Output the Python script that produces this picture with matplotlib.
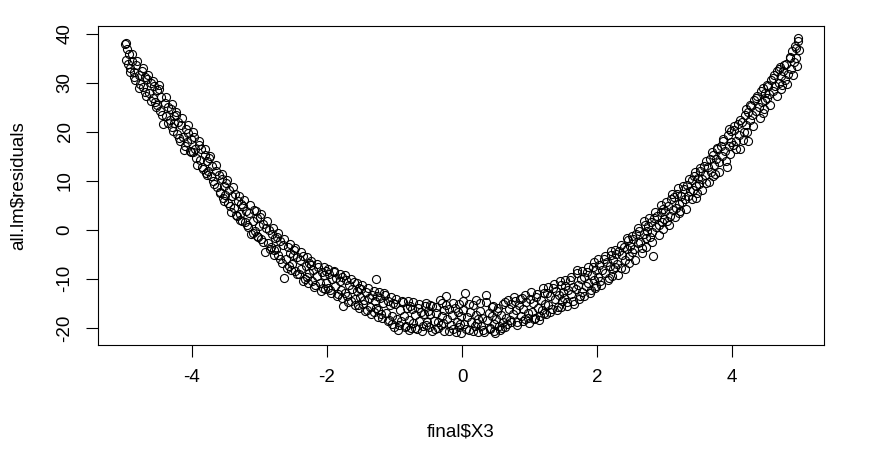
import matplotlib
matplotlib.use("Agg")
import matplotlib.pyplot as plt

# residuals, left arm / trough / right arm
x_left = [
    -4.99, -4.98, -4.97, -4.95, -4.93, -4.91, -4.89, -4.86, -4.84, -4.82, -4.79, -4.77,
    -4.74, -4.72, -4.70, -4.68, -4.66, -4.63, -4.61, -4.58, -4.56, -4.54, -4.52, -4.51,
    -4.49, -4.47, -4.45, -4.43, -4.40, -4.38, -4.36, -4.33, -4.31, -4.29, -4.27, -4.26,
    -4.24, -4.22, -4.20, -4.18, -4.16, -4.13, -4.11, -4.09, -4.07, -4.05, -4.03, -4.01,
    -3.99, -3.97, -3.95, -3.92, -3.90, -3.88, -3.86, -3.83, -3.81, -3.79, -3.77, -3.76,
    -3.74, -3.72, -3.70, -3.67, -3.65, -3.63, -3.60, -3.58, -3.56, -3.54, -3.52, -3.51,
    -3.49, -3.47, -3.45, -3.42, -3.40, -3.38, -3.36, -3.33, -3.31, -3.29, -3.27, -3.26,
    -3.24, -3.22, -3.20, -3.17, -3.15, -3.13, -3.10, -3.08, -3.06, -3.04, -3.02, -3.01,
    -2.99, -2.97, -2.95, -2.92, -2.90, -2.88, -2.86, -2.83, -2.81, -2.79, -2.77, -2.76,
    -2.74, -2.72, -2.70, -2.67, -2.65, -2.63, -2.60, -2.58, -2.56, -2.54, -2.52, -2.51,
    -2.49, -2.47, -2.45, -2.42, -2.40, -2.38, -2.36, -2.33, -2.31, -2.29, -2.27, -2.26,
    -2.24, -2.22, -2.20, -2.17, -2.15, -2.13, -2.10, -2.08, -2.06, -2.04, -2.02, -2.01,
]
r_left = [
    37.9, 38.2, 34.6, 33.8, 35.9, 33.1, 34.4, 32.3, 30.6, 33.7, 31.5, 29.8,
    32.4, 29.2, 31.1, 27.3, 30.8, 28.0, 29.9, 26.9, 29.4, 26.1, 28.5, 25.4,
    29.6, 24.3, 27.1, 21.5, 25.8, 23.2, 25.1, 22.4, 24.6, 20.9, 23.3, 21.8,
    23.4, 19.6, 22.1, 18.2, 21.4, 19.0, 16.3, 20.6, 17.9, 19.8, 16.1, 18.6,
    15.9, 18.9, 16.4, 13.2, 17.3, 14.2, 16.6, 12.4, 15.3, 11.6, 14.1, 12.0,
    14.6, 10.9, 13.0, 9.3, 12.1, 8.8, 11.2, 7.7, 10.3, 6.4, 9.0, 7.1,
    9.6, 5.4, 8.1, 3.6, 6.9, 4.5, 7.4, 2.9, 5.9, 3.3, 5.2, 1.8,
    4.8, 1.5, 3.9, 0.6, 3.5, -0.9, 1.9, 4.1, -0.2, 2.4, -1.5, 0.8,
    2.6, -1.8, 1.1, -4.6, 0.4, -2.7, -0.1, -3.4, -0.8, -4.1, -1.6, -3.9,
    -1.4, -5.2, -2.3, -6.8, -3.1, -9.9, -5.9, -3.6, -7.4, -4.7, -6.9, -5.1,
    -4.2, -8.4, -5.6, -9.1, -6.2, -8.0, -5.3, -10.1, -7.4, -9.6, -6.8, -8.9,
    -7.1, -10.4, -8.2, -11.3, -9.5, -7.6, -10.8, -8.7, -11.9, -9.2, -10.9, -8.4,
]

x_mid = [
    -1.99, -1.97, -1.95, -1.92, -1.90, -1.88, -1.86, -1.83, -1.81, -1.79, -1.77, -1.76,
    -1.74, -1.72, -1.70, -1.67, -1.65, -1.63, -1.60, -1.58, -1.56, -1.54, -1.52, -1.51,
    -1.49, -1.47, -1.45, -1.42, -1.40, -1.38, -1.36, -1.33, -1.31, -1.29, -1.28, -1.27, -1.26,
    -1.24, -1.22, -1.20, -1.17, -1.15, -1.13, -1.10, -1.08, -1.06, -1.04, -1.02, -1.01,
    -0.99, -0.97, -0.95, -0.92, -0.90, -0.88, -0.86, -0.83, -0.81, -0.79, -0.77, -0.76,
    -0.74, -0.72, -0.70, -0.67, -0.65, -0.63, -0.60, -0.58, -0.56, -0.54, -0.52, -0.51,
    -0.49, -0.47, -0.45, -0.42, -0.40, -0.38, -0.36, -0.33, -0.31, -0.29, -0.27, -0.26,
    -0.24, -0.22, -0.20, -0.17, -0.15, -0.13, -0.10, -0.08, -0.06, -0.04, -0.02, -0.01,
    0.01, 0.03, 0.05, 0.07, 0.10, 0.12, 0.14, 0.17, 0.19, 0.21, 0.23, 0.24,
    0.26, 0.28, 0.30, 0.33, 0.35, 0.37, 0.40, 0.42, 0.44, 0.46, 0.48, 0.49,
    0.51, 0.53, 0.55, 0.57, 0.59, 0.61, 0.63, 0.65, 0.67, 0.69, 0.71, 0.73,
    0.76, 0.78, 0.80, 0.82, 0.85, 0.87, 0.89, 0.91, 0.93, 0.95, 0.97, 0.99,
    1.01, 1.03, 1.05, 1.08, 1.10, 1.12, 1.14, 1.17, 1.19, 1.21, 1.23, 1.24,
    1.26, 1.28, 1.30, 1.33, 1.35, 1.37, 1.39, 1.42, 1.44, 1.46, 1.48, 1.49,
    1.51, 1.53, 1.55, 1.57, 1.60, 1.62, 1.64, 1.66, 1.69, 1.71, 1.72, 1.74,
    1.76, 1.78, 1.80, 1.83, 1.85, 1.87, 1.89, 1.92, 1.94, 1.96, 1.98, 1.99,
]
r_mid = [
    -11.8, -9.1, -12.2, -10.0, -8.6, -11.5, -9.8, -13.1, -10.4, -12.3, -9.7, -15.6,
    -12.9, -10.2, -13.4, -11.3, -14.6, -12.0, -10.7, -14.1, -12.4, -15.3, -11.9, -13.8,
    -12.1, -15.2, -14.4, -12.6, -16.3, -13.9, -15.7, -13.2, -16.8, -14.5, -10.1, -15.9, -13.6,
    -16.4, -13.9, -17.2, -15.0, -12.8, -16.9, -14.6, -18.3, -15.4, -17.6, -14.9, -19.8,
    -15.1, -18.2, -20.4, -16.3, -18.7, -14.8, -17.5, -19.6, -16.0, -18.4, -15.6, -20.1,
    -16.2, -19.0, -17.3, -20.3, -15.9, -18.6, -16.8, -19.7, -17.1, -14.9, -18.9, -16.6,
    -19.8, -17.2, -15.5, -18.6, -20.2, -16.9, -18.9, -14.3, -19.4, -17.6, -20.6, -16.4,
    -13.6, -18.2, -16.1, -19.5, -17.4, -20.3, -15.9, -18.8, -16.7, -19.9, -17.6, -21.0,
    -16.3, -19.2, -12.9, -17.8, -20.4, -16.8, -18.9, -15.4, -19.7, -17.3, -20.8, -18.1,
    -16.6, -19.6, -17.9, -20.9, -13.2, -18.4, -16.9, -20.1, -17.6, -15.5, -19.3, -21.0,
    -18.2, -15.9, -19.6, -17.4, -20.0, -18.8, -14.8, -17.9, -19.3, -16.2, -18.4, -15.1,
    -17.2, -14.6, -16.4, -18.9, -15.3, -17.6, -13.9, -16.1, -18.2, -14.8, -16.9, -19.1,
    -14.2, -16.8, -15.0, -17.9, -13.8, -15.9, -18.4, -14.4, -16.3, -12.9, -15.2, -17.1,
    -12.8, -15.4, -13.6, -16.2, -11.9, -14.1, -12.4, -15.7, -13.3, -11.2, -14.5, -12.7,
    -13.9, -11.4, -14.8, -12.2, -10.3, -13.1, -11.7, -15.2, -12.0, -8.2, -11.3, -13.4,
    -10.1, -12.6, -9.6, -11.4, -8.7, -10.8, -12.9, -9.3, -7.6, -10.2, -8.1, -11.5,
]

x_right = [
    2.01, 2.03, 2.05, 2.08, 2.10, 2.12, 2.14, 2.17, 2.19, 2.21, 2.23, 2.24,
    2.26, 2.28, 2.30, 2.33, 2.35, 2.37, 2.40, 2.42, 2.44, 2.46, 2.48, 2.49,
    2.51, 2.53, 2.55, 2.58, 2.60, 2.62, 2.64, 2.67, 2.69, 2.71, 2.73, 2.74,
    2.76, 2.78, 2.80, 2.82, 2.83, 2.85, 2.87, 2.89, 2.92, 2.94, 2.96, 2.98, 2.99,
    3.01, 3.03, 3.05, 3.08, 3.10, 3.12, 3.14, 3.17, 3.19, 3.21, 3.23, 3.24,
    3.26, 3.28, 3.30, 3.33, 3.35, 3.37, 3.40, 3.42, 3.44, 3.46, 3.47, 3.49,
    3.51, 3.53, 3.55, 3.58, 3.60, 3.62, 3.64, 3.67, 3.69, 3.71, 3.73, 3.74,
    3.76, 3.78, 3.80, 3.83, 3.85, 3.87, 3.89, 3.92, 3.94, 3.96, 3.98, 3.99,
    4.01, 4.03, 4.05, 4.08, 4.10, 4.12, 4.14, 4.17, 4.19, 4.21, 4.23, 4.24,
    4.26, 4.28, 4.30, 4.33, 4.35, 4.37, 4.40, 4.42, 4.44, 4.46, 4.48, 4.49,
    4.51, 4.53, 4.55, 4.58, 4.60, 4.62, 4.64, 4.67, 4.69, 4.71, 4.73, 4.74,
    4.76, 4.78, 4.80, 4.83, 4.85, 4.87, 4.89, 4.91, 4.93, 4.95, 4.97, 4.98, 4.99,
]
r_right = [
    -9.6, -7.2, -10.4, -8.1, -5.9, -8.8, -6.6, -9.9, -7.3, -5.1, -8.0, -6.1,
    -7.6, -5.0, -6.9, -4.4, -7.8, -5.2, -3.6, -6.1, -4.0, -2.1, -5.3, -3.2,
    -4.6, -1.9, -3.9, -0.8, -2.7, -0.3, -2.4, -3.8, -0.9, 1.0, -1.6, -0.2,
    0.8, -1.5, 1.6, -0.4, -5.3, 2.4, 0.5, 2.8, 0.9, 3.7, 1.7, 4.2, 2.3,
    3.8, 1.9, 4.9, 2.8, 6.3, 4.0, 6.8, 4.5, 7.4, 5.3, 3.9, 6.9,
    5.6, 8.3, 6.2, 9.1, 7.0, 7.9, 10.2, 8.1, 11.0, 9.0, 6.6, 10.6,
    9.4, 12.1, 10.3, 13.1, 11.2, 9.6, 12.8, 14.4, 11.9, 15.3, 13.2, 11.4,
    14.5, 16.8, 13.9, 17.2, 15.1, 18.6, 16.0, 12.8, 19.3, 17.1, 20.2, 18.0,
    17.4, 20.3, 18.1, 21.6, 19.4, 16.6, 22.1, 20.0, 23.4, 21.3, 18.2, 24.1,
    22.5, 25.2, 23.4, 26.4, 24.2, 27.3, 25.0, 28.4, 26.1, 23.9, 28.0, 26.6,
    27.0, 29.4, 27.8, 30.6, 28.4, 31.7, 29.3, 32.5, 30.0, 33.2, 31.4, 29.5,
    32.4, 30.6, 33.9, 31.8, 35.2, 32.9, 36.4, 34.3, 37.5, 35.1, 38.6, 39.1, 36.8,
]

# second pass over the band: the looser points on both edges
x_extra = [
    -4.96, -4.92, -4.88, -4.85, -4.81, -4.78, -4.73, -4.69, -4.65, -4.60, -4.57, -4.53,
    -4.48, -4.44, -4.39, -4.35, -4.30, -4.28, -4.23, -4.19, -4.15, -4.10, -4.06, -4.02,
    -3.98, -3.94, -3.89, -3.85, -3.80, -3.78, -3.73, -3.69, -3.64, -3.59, -3.55, -3.53,
    -3.48, -3.44, -3.39, -3.35, -3.30, -3.28, -3.23, -3.19, -3.14, -3.09, -3.05, -3.03,
    -2.98, -2.94, -2.89, -2.85, -2.80, -2.78, -2.73, -2.69, -2.64, -2.59, -2.55, -2.53,
    -2.48, -2.44, -2.39, -2.35, -2.30, -2.28, -2.23, -2.19, -2.14, -2.09, -2.05, -2.03,
    -1.98, -1.94, -1.89, -1.85, -1.80, -1.78, -1.73, -1.69, -1.64, -1.59, -1.55, -1.53,
    -1.48, -1.44, -1.39, -1.35, -1.30, -1.25, -1.23, -1.19, -1.14, -1.09, -1.05, -1.03,
    -0.98, -0.94, -0.89, -0.84, -0.80, -0.78, -0.73, -0.69, -0.64, -0.59, -0.55, -0.53,
    -0.48, -0.44, -0.39, -0.35, -0.30, -0.28, -0.23, -0.19, -0.14, -0.09, -0.05, -0.03,
    0.02, 0.06, 0.11, 0.16, 0.20, 0.22, 0.27, 0.31, 0.36, 0.41, 0.45, 0.47,
    0.52, 0.56, 0.60, 0.64, 0.68, 0.72, 0.77, 0.81, 0.86, 0.90, 0.94, 0.98,
    1.02, 1.06, 1.11, 1.16, 1.20, 1.22, 1.27, 1.31, 1.36, 1.41, 1.45, 1.47,
    1.52, 1.56, 1.61, 1.65, 1.70, 1.73, 1.77, 1.81, 1.86, 1.91, 1.95, 1.97,
    2.02, 2.06, 2.11, 2.16, 2.20, 2.22, 2.27, 2.31, 2.36, 2.41, 2.45, 2.47,
    2.52, 2.56, 2.61, 2.66, 2.70, 2.72, 2.77, 2.81, 2.86, 2.91, 2.95, 2.97,
    3.02, 3.06, 3.11, 3.16, 3.20, 3.22, 3.27, 3.31, 3.36, 3.41, 3.45, 3.48,
    3.52, 3.56, 3.61, 3.66, 3.70, 3.72, 3.77, 3.81, 3.86, 3.91, 3.95, 3.97,
    4.02, 4.06, 4.11, 4.16, 4.20, 4.22, 4.27, 4.31, 4.36, 4.41, 4.45, 4.47,
    4.52, 4.56, 4.61, 4.66, 4.70, 4.72, 4.77, 4.81, 4.86, 4.90, 4.94, 4.96,
]
r_extra = [
    36.9, 32.2, 35.8, 31.1, 34.5, 28.9, 33.0, 28.1, 31.6, 26.2, 30.3, 25.0,
    28.7, 23.4, 27.2, 21.9, 25.6, 20.2, 24.0, 18.7, 22.8, 17.2, 21.3, 15.8,
    19.9, 14.6, 18.1, 12.9, 16.4, 11.2, 15.0, 9.9, 13.3, 7.6, 11.4, 5.9,
    10.1, 4.8, 8.7, 3.1, 7.0, 2.0, 6.1, 1.0, 5.0, -0.6, 3.9, -1.2,
    3.3, -2.4, 1.9, -4.0, 0.3, -5.1, -0.6, -6.0, -1.9, -7.7, -2.8, -8.1,
    -3.7, -9.0, -4.6, -10.4, -5.6, -10.9, -6.3, -11.7, -7.0, -12.4, -7.5, -12.0,
    -7.9, -12.8, -8.3, -13.6, -9.0, -14.0, -9.2, -14.7, -10.1, -15.4, -10.8, -16.0,
    -11.2, -16.6, -11.9, -17.2, -12.5, -17.7, -12.7, -18.0, -13.3, -18.6, -13.8, -19.2,
    -14.2, -19.4, -14.5, -19.9, -14.6, -20.5, -14.7, -20.0, -15.2, -20.6, -15.6, -19.5,
    -15.3, -20.7, -15.7, -20.1, -15.0, -19.0, -15.4, -20.6, -14.9, -20.9, -15.2, -19.3,
    -14.6, -20.2, -15.1, -20.7, -14.3, -19.0, -15.0, -20.5, -14.7, -20.3, -15.8, -20.6,
    -16.5, -20.4, -15.2, -19.8, -14.4, -18.9, -13.7, -19.4, -14.1, -18.7, -13.2, -17.9,
    -12.6, -18.2, -13.0, -17.5, -11.8, -16.9, -11.6, -16.7, -11.0, -16.4, -10.5, -15.8,
    -10.2, -15.5, -9.7, -14.6, -8.9, -14.2, -8.4, -13.6, -7.6, -12.2, -6.6, -11.8,
    -6.0, -11.3, -5.4, -10.2, -4.4, -9.4, -4.1, -9.2, -3.0, -7.9, -1.6, -6.7,
    -1.2, -6.1, 0.4, -4.7, 1.8, -3.4, 2.5, -2.4, 3.6, -1.0, 5.1, 0.2,
    5.6, 0.9, 7.3, 2.7, 8.6, 3.4, 9.0, 4.3, 10.4, 6.2, 11.8, 7.6,
    12.6, 8.1, 14.0, 9.7, 15.9, 10.9, 16.4, 11.8, 18.2, 14.0, 20.6, 15.4,
    21.2, 16.4, 22.5, 18.3, 24.6, 19.9, 25.4, 21.1, 26.9, 22.8, 28.9, 24.6,
    29.6, 25.4, 30.9, 27.3, 32.8, 28.7, 33.6, 29.8, 35.0, 31.7, 37.2, 33.4,
]

x3 = x_left + x_mid + x_right + x_extra
resid = r_left + r_mid + r_right + r_extra

xticks = [-4, -2, 0, 2, 4]
yticks = [-20, -10, 0, 10, 20, 30, 40]

plt.rcParams['font.family'] = ['Liberation Sans', 'DejaVu Sans']
W, H = 875, 468
fig = plt.figure(figsize=(W / 100, H / 100), dpi=100)
ax = fig.add_axes([98 / W, 1 - 345 / H, (824 - 98) / W, (345 - 26) / H])

ax.plot(x3, resid, 'o', ms=5.8, mfc='none', mec='black', mew=0.8)

ax.set_xlim(-5.39, 5.36)
ax.set_ylim(-23.5, 41.6)
ax.set_xticks(xticks)
ax.set_yticks(yticks)
ax.set_xticklabels([str(t) for t in xticks])
ax.set_yticklabels([str(t) for t in yticks], rotation=90, va='center')
ax.tick_params(direction='out', length=8.6, width=0.8, labelsize=13.5, pad=9)
for s in ax.spines.values():
    s.set_linewidth(0.8)

fig.text(461 / W, 1 - 436 / H, 'final$X3', ha='center', va='baseline', fontsize=13.5)
fig.text(23 / W, 1 - 185.5 / H, 'all.lm$residuals', rotation=90, rotation_mode='anchor',
         ha='center', va='baseline', fontsize=13.5)

fig.savefig('out.png', dpi=100)
